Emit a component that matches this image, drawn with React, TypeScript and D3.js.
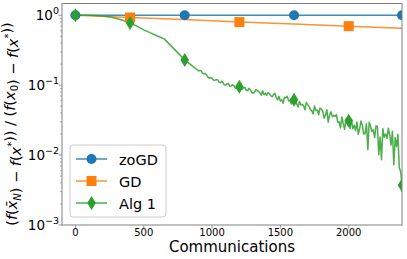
import React, { useEffect, useRef } from 'react'
import * as d3 from 'd3'

// ------------------------------------------------------------------ //
// data

const zoGDComm = [0, 800, 1600, 2390]
const zoGDGap = [1.0, 1.0, 1.0, 1.0]

const gdComm = [0, 400, 800, 1200, 1600, 2000, 2390]
const gdGap = [1.0, 0.93, 0.87, 0.8, 0.75, 0.7, 0.655]
const gdMarks = [400, 1200, 2000]

// Alg 1: smooth start, then a noisy tail sampled every 10 communications
const algHeadComm = [0, 50, 100, 150, 200, 250, 300, 350, 400, 450, 500, 550, 600, 650, 700, 750, 800, 850]
const algHeadGap = [1.0, 1.0, 1.0, 0.99, 0.98, 0.95, 0.9, 0.84, 0.776, 0.7, 0.62, 0.56, 0.505, 0.46, 0.365, 0.29, 0.23, 0.192]
const algTailStart = 900
const algTailStep = 10
const algTailGap = [
    0.161, 0.1627, 0.161, 0.148, 0.1455, 0.1465, 0.141, 0.1306, 0.126, 0.1276,
    0.126, 0.1187, 0.117, 0.1199, 0.12, 0.1115, 0.1086, 0.114, 0.109, 0.1012,
    0.1003, 0.105, 0.106, 0.0969, 0.0976, 0.1017, 0.0989, 0.091, 0.0894, 0.0936,
    0.0947, 0.088, 0.0874, 0.0918, 0.093, 0.0851, 0.0832, 0.0903, 0.0863, 0.0785,
    0.0769, 0.0787, 0.0863, 0.0843, 0.0807, 0.0781, 0.0718, 0.0832, 0.073, 0.0769,
    0.0713, 0.0787, 0.0754, 0.0707, 0.0683, 0.0734, 0.0766, 0.0663, 0.0616, 0.0692,
    0.0596, 0.0617, 0.0552, 0.0672, 0.0663, 0.0692, 0.0597, 0.0609, 0.0539, 0.0637,
    0.0619, 0.0601, 0.0535, 0.049, 0.0585, 0.0523, 0.0531, 0.0509, 0.0445, 0.0568,
    0.0526, 0.0498, 0.0447, 0.0429, 0.0389, 0.0504, 0.0434, 0.0442, 0.0378, 0.0472,
    0.0456, 0.0427, 0.0337, 0.0375, 0.0444, 0.0296, 0.0373, 0.0416, 0.0355, 0.0372,
    0.0356, 0.038, 0.0295, 0.0299, 0.0245, 0.0351, 0.0282, 0.0234, 0.0326, 0.0288,
    0.0311, 0.024, 0.0322, 0.0238, 0.0267, 0.0224, 0.0298, 0.0198, 0.0237, 0.0308,
    0.0266, 0.02, 0.0204, 0.028, 0.0119, 0.0296, 0.0257, 0.0217, 0.023, 0.0178,
    0.0262, 0.0259, 0.0101, 0.0181, 0.00857, 0.0239, 0.018, 0.02, 0.0174, 0.0242,
    0.0194, 0.0139, 0.022, 0.00727, 0.0177, 0.0132, 0.0199, 0.00659, 0.00577
]
const algEndComm = 2390
const algEndGap = 0.0037
const algMarks = [0, 400, 800, 1200, 1600, 2000, 2390]

const xTicks = [0, 500, 1000, 1500, 2000]
const yTicks = [1, 0.1, 0.01, 0.001]
const yTickExp = ["0", "\u22121", "\u22122", "\u22123"]

const seriesNames = ["zoGD", "GD", "Alg 1"]
const seriesColors = ["#1f77b4", "#ff7f0e", "#2ca02c"]
const seriesShapes = ["circle", "square", "thin"]

// ------------------------------------------------------------------ //

const W = 407, H = 259
const margin = { top: 3.5, right: 5, bottom: 34, left: 62 }
const FONT = "DejaVu Sans, sans-serif"

type Pt = [number, number]

const drawMarker = (g: any, shape: string, x: number, y: number, color: string) => {
    if (shape === "circle") {
        g.append("circle").attr("cx", x).attr("cy", y).attr("r", 5).attr("fill", color)
    } else if (shape === "square") {
        g.append("rect").attr("x", x - 5).attr("y", y - 5).attr("width", 10).attr("height", 10).attr("fill", color)
    } else {
        g.append("path")
            .attr("d", `M${x},${y - 7}L${x + 4.3},${y}L${x},${y + 7}L${x - 4.3},${y}Z`)
            .attr("fill", color)
    }
}

const App = () => {
    const ref = useRef<SVGSVGElement>(null)

    useEffect(() => {
        const svg = d3.select(ref.current)
        svg.selectAll("*").remove()

        const x = d3.scaleLinear().domain([-98, 2390]).range([margin.left, W - margin.right])
        const y = d3.scaleLog().domain([1e-3, 1.475]).range([H - margin.bottom, margin.top])
        const x0 = margin.left, x1 = W - margin.right
        const y0 = H - margin.bottom, y1 = margin.top

        svg.append("clipPath").attr("id", "plot-clip")
            .append("rect").attr("x", x0).attr("y", y1).attr("width", x1 - x0).attr("height", y0 - y1)

        // series as point lists
        const algComm = algHeadComm
            .concat(algTailGap.map((_, i) => algTailStart + i * algTailStep))
            .concat([algEndComm])
        const algGap = algHeadGap.concat(algTailGap).concat([algEndGap])

        const zoPts: Pt[] = zoGDComm.map((c, i) => [c, zoGDGap[i]])
        const gdPts: Pt[] = gdComm.map((c, i) => [c, gdGap[i]])
        const algPts: Pt[] = algComm.map((c, i) => [c, algGap[i]])

        const line = d3.line<Pt>().x(d => x(d[0])).y(d => y(d[1]))

        const plot = svg.append("g").attr("clip-path", "url(#plot-clip)")

        const allSeries = [
            { pts: zoPts, marks: zoPts },
            { pts: gdPts, marks: gdPts.filter(p => gdMarks.includes(p[0])) },
            { pts: algPts, marks: algPts.filter(p => algMarks.includes(p[0])) },
        ]
        allSeries.forEach((s, k) => {
            plot.append("path")
                .attr("d", line(s.pts))
                .attr("fill", "none")
                .attr("stroke", seriesColors[k])
                .attr("stroke-opacity", 0.85)
                .attr("stroke-width", 1.5)
                .attr("stroke-linejoin", "round")
        })
        allSeries.forEach((s, k) => {
            s.marks.forEach(p => drawMarker(plot, seriesShapes[k], x(p[0]), y(p[1]), seriesColors[k]))
        })

        // spines
        const spineColor = "#808080"
        svg.append("rect")
            .attr("x", x0).attr("y", y1).attr("width", x1 - x0).attr("height", y0 - y1)
            .attr("fill", "none").attr("stroke", spineColor).attr("stroke-width", 1)

        // x ticks
        const xAxis = svg.append("g")
        xTicks.forEach(t => {
            xAxis.append("line")
                .attr("x1", x(t)).attr("x2", x(t)).attr("y1", y0).attr("y2", y0 + 3.5)
                .attr("stroke", spineColor).attr("stroke-width", 0.8)
            xAxis.append("text")
                .attr("x", x(t)).attr("y", y0 + 10.5)
                .attr("text-anchor", "middle")
                .attr("font-family", FONT).attr("font-size", 10)
                .text(t)
        })
        svg.append("text")
            .attr("x", (x0 + x1) / 2).attr("y", 252)
            .attr("text-anchor", "middle")
            .attr("font-family", FONT).attr("font-size", 15)
            .text("Communications")

        // y ticks (log): majors with 10^k labels, minors at 2..9
        const yAxis = svg.append("g")
        yTicks.forEach((t, i) => {
            yAxis.append("line")
                .attr("x1", x0 - 3.5).attr("x2", x0).attr("y1", y(t)).attr("y2", y(t))
                .attr("stroke", spineColor).attr("stroke-width", 0.8)
            const lab = yAxis.append("text")
                .attr("x", x0 - 3).attr("y", y(t) + 5)
                .attr("text-anchor", "end")
                .attr("font-family", FONT).attr("font-size", 13.5)
            lab.append("tspan").text("10")
            lab.append("tspan").attr("dy", -6).attr("font-size", 9.5).text(yTickExp[i])
        })
        yTicks.forEach(t => {
            d3.range(2, 10).forEach(m => {
                const v = t * m
                if (v > y.domain()[1]) return
                yAxis.append("line")
                    .attr("x1", x0 - 2).attr("x2", x0).attr("y1", y(v)).attr("y2", y(v))
                    .attr("stroke", spineColor).attr("stroke-width", 0.6)
            })
        })

        // y label: (f(x̄_N) − f(x*)) / (f(x_0) − f(x*))
        const yl = svg.append("text")
            .attr("transform", `translate(17, 124) rotate(-90)`)
            .attr("text-anchor", "middle")
            .attr("font-family", FONT).attr("font-size", 14.5)
        const part = (s: string, italic = false) => yl.append("tspan").attr("font-style", italic ? "italic" : "normal").text(s)
        const shifted = (s: string, dy: number, italic = false) => {
            yl.append("tspan").attr("dy", dy).attr("font-size", 10).attr("font-style", italic ? "italic" : "normal").text(s)
            yl.append("tspan").attr("dy", -dy).text("")
        }
        part("(")
        part("f", true)
        part("(")
        part("x\u0304", true)
        shifted("N", 3.5, true)
        part(") \u2212 ")
        part("f", true)
        part("(")
        part("x", true)
        shifted("*", -6)
        part(")) / (")
        part("f", true)
        part("(")
        part("x", true)
        shifted("0", 3.5)
        part(") \u2212 ")
        part("f", true)
        part("(")
        part("x", true)
        shifted("*", -6)
        part("))")

        // legend
        const lg = svg.append("g")
        lg.append("rect")
            .attr("x", 70).attr("y", 145).attr("width", 96).attr("height", 72).attr("rx", 3)
            .attr("fill", "white").attr("fill-opacity", 0.8)
            .attr("stroke", "#cccccc").attr("stroke-width", 1)
        seriesNames.forEach((name, k) => {
            const ry = 159 + k * 22
            lg.append("line")
                .attr("x1", 76).attr("x2", 107).attr("y1", ry).attr("y2", ry)
                .attr("stroke", seriesColors[k]).attr("stroke-opacity", 0.85).attr("stroke-width", 1.5)
            drawMarker(lg, seriesShapes[k], 91.5, ry, seriesColors[k])
            lg.append("text")
                .attr("x", 119).attr("y", ry + 5.5)
                .attr("font-family", FONT).attr("font-size", 14.5)
                .text(name)
        })
    }, [])

    return (
        <svg ref={ref} width={W} height={H}
            style={{ position: 'absolute', left: 0, top: 0, background: 'white' }} />
    )
}

export default App
